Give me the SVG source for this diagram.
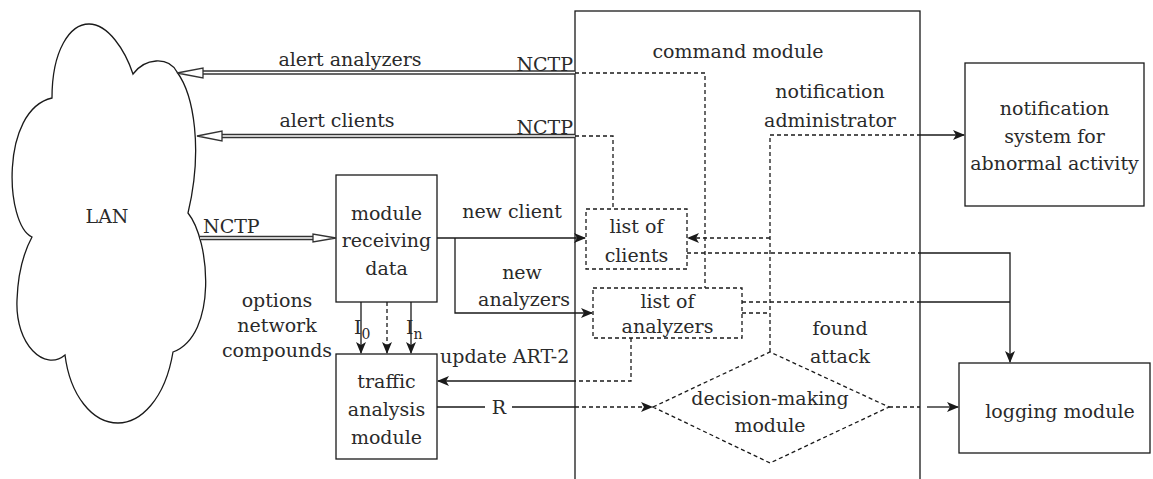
<svg xmlns="http://www.w3.org/2000/svg" width="1153" height="479" viewBox="0 0 1153 479">
<defs>
<style>
text{font-family:"DejaVu Serif",serif;font-size:19px;fill:#2a2a2a}
.c{text-anchor:middle}
.box{fill:#fff;stroke:#1a1a1a;stroke-width:1.3}
.ln{fill:none;stroke:#1a1a1a;stroke-width:1.3}
.ds{fill:none;stroke:#1a1a1a;stroke-width:1.3;stroke-dasharray:4 3}
.dbo{fill:none;stroke:#333;stroke-width:4.6}
.dbi{fill:none;stroke:#fff;stroke-width:1.6}
.ha{fill:#fff;stroke:#333;stroke-width:1.3}
</style>
<marker id="ar" viewBox="0 0 12 10" refX="11" refY="5" markerWidth="12" markerHeight="10" markerUnits="userSpaceOnUse" orient="auto">
<path d="M0,0 L12,5 L0,10 L3,5 Z" fill="#1a1a1a"/>
</marker>
</defs>

<g id="command-module">
<rect class="box" x="575" y="11" width="345" height="480"/>
<text class="c" x="738" y="58">command module</text>
<text class="c" x="830" y="98">notification</text>
<text class="c" x="830" y="127">administrator</text>
<text class="c" x="840" y="335">found</text>
<text class="c" x="840" y="363">attack</text>
</g>

<g id="lan">
<path class="box" d="M52 98 C52 50 70 24 89 24 C108 24 125 50 133 74 C145 58 168 56 177 72 C194 95 203 150 188 213 C210 240 218 335 173 352 C165 400 140 423 118 423 C92 423 70 395 65 355 C45 372 15 345 17 300 C18 270 25 250 32 237 C5 225 0 110 52 98 Z"/>
<text class="c" x="107" y="223">LAN</text>
</g>

<g id="module-receiving-data">
<rect class="box" x="336" y="175" width="101" height="127"/>
<text class="c" x="386.5" y="220">module</text>
<text class="c" x="386.5" y="247">receiving</text>
<text class="c" x="386.5" y="275">data</text>
</g>

<g id="traffic-analysis-module">
<rect class="box" x="336" y="354" width="101" height="105"/>
<text class="c" x="386.5" y="388">traffic</text>
<text class="c" x="386.5" y="416">analysis</text>
<text class="c" x="386.5" y="444">module</text>
</g>

<g id="list-of-clients">
<rect class="ds" x="586" y="209" width="101" height="60" fill="#fff"/>
<text class="c" x="636.5" y="233">list of</text>
<text class="c" x="636.5" y="262">clients</text>
</g>

<g id="list-of-analyzers">
<rect class="ds" x="593" y="288" width="149" height="50" fill="#fff"/>
<text class="c" x="667.5" y="308">list of</text>
<text class="c" x="667.5" y="333">analyzers</text>
</g>

<g id="decision-making-module">
<path class="ds" d="M653 407 L770 352 L889 407 L770 463 Z"/>
<text class="c" x="770" y="405">decision-making</text>
<text class="c" x="770" y="432">module</text>
</g>

<g id="notification-system">
<rect class="box" x="965" y="63" width="179" height="143"/>
<text class="c" x="1054.5" y="115">notification</text>
<text class="c" x="1054.5" y="143">system for</text>
<text class="c" x="1054.5" y="170">abnormal activity</text>
</g>

<g id="logging-module">
<rect class="box" x="959" y="363" width="191" height="90"/>
<text class="c" x="1060" y="418">logging module</text>
</g>

<g id="connectors">
<path class="dbo" d="M575 72.5 H200"/>
<path class="dbi" d="M575 72.5 H200"/>
<polygon class="ha" points="177,73 203,68 203,78"/>
<path class="dbo" d="M575 136 H220"/>
<path class="dbi" d="M575 136 H220"/>
<polygon class="ha" points="197,136 222,131 222,141"/>
<path class="dbo" d="M200 238 H314"/>
<path class="dbi" d="M200 238 H314"/>
<polygon class="ha" points="336,238 313,234 313,242"/>

<path class="ds" d="M575 73 H705 V288"/>
<path class="ds" d="M575 136 H613 V209"/>

<path class="ln" d="M437 238 H585" marker-end="url(#ar)"/>
<path class="ln" d="M455 238 V313 H592" marker-end="url(#ar)"/>

<path class="ln" d="M361 302 V353" marker-end="url(#ar)"/>
<path class="ds" d="M387 302 V353" marker-end="url(#ar)"/>
<path class="ln" d="M411 302 V353" marker-end="url(#ar)"/>

<path class="ds" d="M631 338 V381 H575"/>
<path class="ln" d="M575 381 H438" marker-end="url(#ar)"/>

<path class="ln" d="M437 407 H485 M512 407 H575"/>
<path class="ds" d="M575 407 H652" marker-end="url(#ar)"/>

<path class="ds" d="M889 407 H920"/>
<path class="ln" d="M927 407 H958" marker-end="url(#ar)"/>

<path class="ds" d="M770 352 V135 H920"/>
<path class="ln" d="M920 135 H964" marker-end="url(#ar)"/>
<path class="ds" d="M770 238 H688" marker-end="url(#ar)"/>

<path class="ds" d="M687 253 H920"/>
<path class="ln" d="M920 253 H1010 V362" marker-end="url(#ar)"/>
<path class="ds" d="M742 302 H920"/>
<path class="ln" d="M920 302 H1010"/>
<path class="ds" d="M742 313 H770"/>
</g>

<g id="labels">
<text class="c" x="350" y="66">alert analyzers</text>
<text x="573" y="71" text-anchor="end">NCTP</text>
<text class="c" x="337" y="127">alert clients</text>
<text x="573" y="134" text-anchor="end">NCTP</text>
<text x="203" y="233">NCTP</text>
<text class="c" x="277" y="307">options</text>
<text class="c" x="277" y="332">network</text>
<text class="c" x="277" y="357">compounds</text>
<text x="354" y="334">I<tspan font-size="14" dy="5">0</tspan></text>
<text x="406" y="334">I<tspan font-size="14" dy="5">n</tspan></text>
<text x="440" y="363">update ART-2</text>
<text class="c" x="499" y="414">R</text>
<text class="c" x="512" y="218">new client</text>
<text class="c" x="522" y="279">new</text>
<text class="c" x="524" y="306">analyzers</text>
</g>
</svg>
